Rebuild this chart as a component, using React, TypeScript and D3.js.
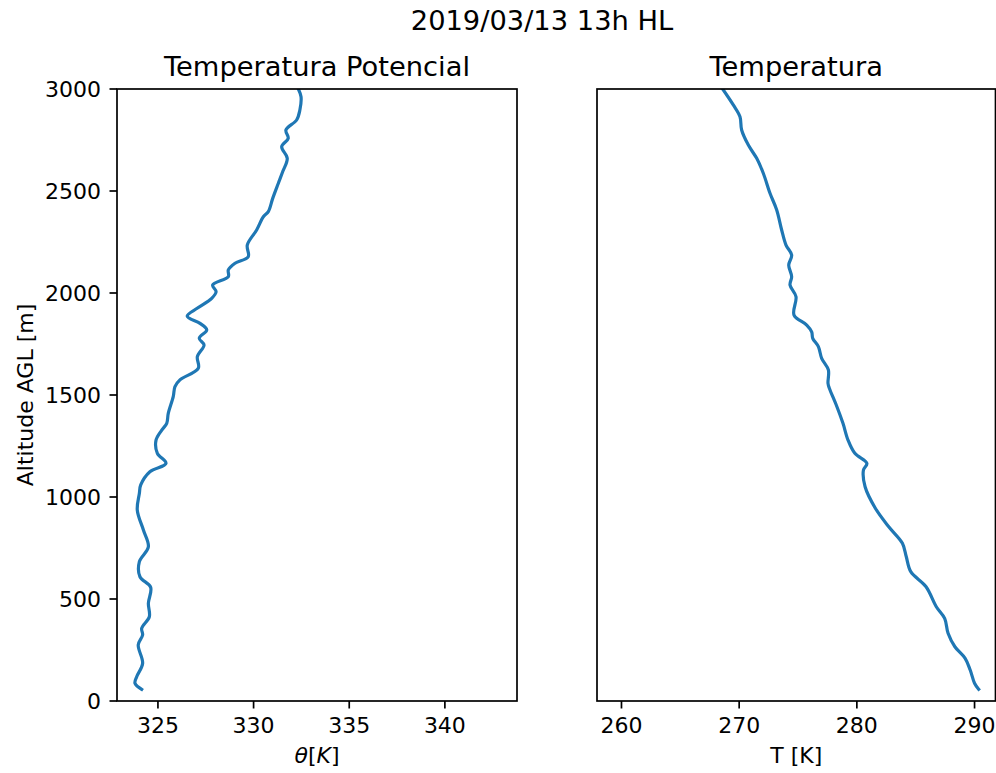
import React from "react";
import * as d3 from "d3";

// Potential temperature profile: altitude AGL [m] and theta [K]
const thetaAlt = [57, 87, 119, 185, 275, 324, 356, 413, 479, 557, 609, 683, 756, 838, 936, 1018, 1059, 1124, 1165, 1214, 1279, 1328, 1361, 1410, 1492, 1541, 1574, 1631, 1688, 1745, 1778, 1819, 1851, 1887, 1925, 1974, 2006, 2039, 2080, 2113, 2146, 2178, 2235, 2309, 2374, 2399, 2464, 2537, 2594, 2660, 2717, 2758, 2799, 2848, 2897, 2962, 3000];
const thetaVal = [324.15, 323.8, 323.89, 324.2, 323.97, 324.2, 324.15, 324.55, 324.5, 324.62, 324.06, 324.03, 324.5, 324.24, 323.92, 324.03, 324.1, 324.58, 325.42, 324.97, 324.9, 325.2, 325.46, 325.54, 325.8, 325.89, 326.15, 327.11, 327.06, 327.41, 327.16, 327.55, 327.2, 326.53, 327.05, 327.81, 328.04, 327.86, 328.68, 328.68, 329.03, 329.72, 329.67, 330.16, 330.51, 330.77, 331.0, 331.29, 331.52, 331.76, 331.47, 331.81, 331.69, 332.25, 332.42, 332.48, 332.34];

// Air temperature profile: altitude AGL [m] and T [K]
const tempAlt = [57, 87, 152, 209, 266, 332, 405, 462, 560, 634, 707, 773, 854, 945, 1050, 1132, 1165, 1214, 1279, 1361, 1451, 1532, 1557, 1623, 1680, 1737, 1778, 1810, 1843, 1892, 1982, 2039, 2080, 2137, 2186, 2235, 2309, 2407, 2489, 2587, 2660, 2725, 2799, 2864, 2922, 3000];
const tempVal = [290.35, 290.0, 289.63, 289.2, 288.33, 287.75, 287.46, 286.75, 285.88, 284.58, 284.2, 283.87, 282.71, 281.57, 280.7, 280.56, 280.85, 279.83, 279.25, 278.82, 278.25, 277.67, 277.55, 277.58, 277.01, 276.73, 276.25, 276.16, 275.74, 274.66, 274.83, 274.32, 274.46, 274.21, 274.46, 273.98, 273.61, 273.19, 272.62, 272.05, 271.49, 270.78, 270.21, 270.07, 269.5, 268.6];

const altTicks = [0, 500, 1000, 1500, 2000, 2500, 3000];
const thetaTicks = [325, 330, 335, 340];
const tempTicks = [260, 270, 280, 290];

const W = 996;
const H = 773;
const FONT = "'DejaVu Sans', sans-serif";
const LINE = "#1f77b4";
const TICK_FS = 22;
const TITLE_FS = 27.3;

const top = 89;
const bottom = 701;
const y = d3.scaleLinear().domain([0, 3000]).range([bottom, top]);

const xTheta = d3.scaleLinear().domain([322.86, 343.77]).range([117, 517]);
const xTemp = d3.scaleLinear().domain([257.92, 291.78]).range([597, 995.5]);

type PanelProps = {
  id: string;
  x: d3.ScaleLinear<number, number>;
  alts: number[];
  vals: number[];
  ticks: number[];
  title: string;
  xlabel: React.ReactNode;
  showY: boolean;
};

function Panel({ id, x, alts, vals, ticks, title, xlabel, showY }: PanelProps) {
  const [x0, x1] = x.range();
  const pts: [number, number][] = alts.map((a, i) => [vals[i], a]);
  const line = d3
    .line<[number, number]>()
    .x((d) => x(d[0]))
    .y((d) => y(d[1]))
    .curve(d3.curveCatmullRom.alpha(0.5));
  const cx = (x0 + x1) / 2;
  return (
    <g>
      <defs>
        <clipPath id={id}>
          <rect x={x0} y={top} width={x1 - x0} height={bottom - top} />
        </clipPath>
      </defs>
      <path d={line(pts) ?? ""} fill="none" stroke={LINE} strokeWidth={3.2} strokeLinejoin="round" strokeLinecap="square" clipPath={`url(#${id})`} />
      <rect x={x0} y={top} width={x1 - x0} height={bottom - top} fill="none" stroke="#000" strokeWidth={1.7} />
      {ticks.map((t) => (
        <g key={t}>
          <line x1={x(t)} x2={x(t)} y1={bottom} y2={bottom + 7.5} stroke="#000" strokeWidth={1.7} />
          <text x={x(t)} y={733} textAnchor="middle" fontSize={TICK_FS} fontFamily={FONT} fill="#000">
            {t}
          </text>
        </g>
      ))}
      {showY &&
        altTicks.map((t) => (
          <g key={t}>
            <line x1={x0 - 7.5} x2={x0} y1={y(t)} y2={y(t)} stroke="#000" strokeWidth={1.7} />
            <text x={101} y={y(t)} dy="0.36em" textAnchor="end" fontSize={TICK_FS} fontFamily={FONT} fill="#000">
              {t}
            </text>
          </g>
        ))}
      <text x={cx} y={76} textAnchor="middle" fontSize={TITLE_FS} fontFamily={FONT} fill="#000">
        {title}
      </text>
      <text x={cx} y={763} textAnchor="middle" fontSize={TICK_FS} fontFamily={FONT} fill="#000">
        {xlabel}
      </text>
    </g>
  );
}

export default function App() {
  return (
    <svg
      width={W}
      height={H}
      viewBox={`0 0 ${W} ${H}`}
      style={{ position: "absolute", left: 0, top: 0, background: "#fff" }}
    >
      <rect width={W} height={H} fill="#fff" />
      <text x={542} y={30} textAnchor="middle" fontSize={TITLE_FS} fontFamily={FONT} fill="#000">
        2019/03/13 13h HL
      </text>
      <text
        transform={`translate(33, ${(top + bottom) / 2}) rotate(-90)`}
        textAnchor="middle"
        fontSize={TICK_FS}
        fontFamily={FONT}
        fill="#000"
      >
        Altitude AGL [m]
      </text>
      <Panel
        id="clip-theta"
        x={xTheta}
        alts={thetaAlt}
        vals={thetaVal}
        ticks={thetaTicks}
        title="Temperatura Potencial"
        xlabel={
          <>
            <tspan fontStyle="italic">θ</tspan>
            <tspan>[</tspan>
            <tspan fontStyle="italic">K</tspan>
            <tspan>]</tspan>
          </>
        }
        showY={true}
      />
      <Panel
        id="clip-temp"
        x={xTemp}
        alts={tempAlt}
        vals={tempVal}
        ticks={tempTicks}
        title="Temperatura"
        xlabel="T [K]"
        showY={false}
      />
    </svg>
  );
}
